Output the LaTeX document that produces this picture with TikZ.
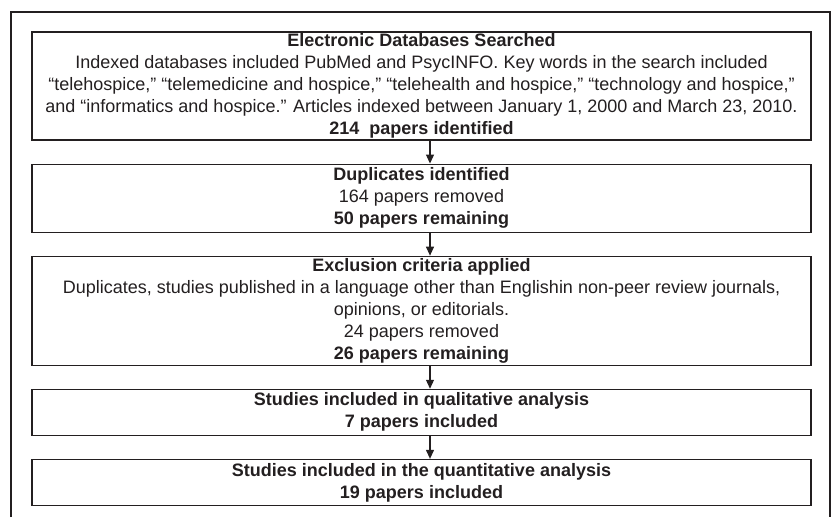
\documentclass[tikz,border=0pt]{standalone}
\usepackage{fontspec}
\setmainfont{Liberation Sans}
\usetikzlibrary{positioning,arrows.meta}
\definecolor{ink}{HTML}{231F20}

\begin{document}
\begin{tikzpicture}[x=1pt,y=1pt,>={Triangle[length=9pt,width=8pt]},
    stage/.style={draw=ink,line width=1.1pt,text=ink,minimum width=779pt,inner sep=0pt,
        align=center,font=\fontsize{18pt}{22pt}\selectfont}]
        \useasboundingbox (0,0) rectangle (832,-517);
        \draw[ink,line width=2.2pt] (11,-517) |- (830,-12) -- (830,-517); % outer frame

        \node[stage,minimum height=108pt] (search) at (421.5,-86)
            {\textbf{Electronic Databases Searched}\\
             Indexed databases included PubMed and PsycINFO. Key words in the search included\\
             “telehospice,” “telemedicine and hospice,” “telehealth and hospice,” “technology and hospice,”\\
             and “informatics and hospice.” Articles indexed between January 1, 2000 and March 23, 2010.\\
             \textbf{214~~papers identified}}; % step 1
        \node[stage,minimum height=68pt,below=23pt of search] (dup)
            {\textbf{Duplicates identified}\\
             164 papers removed\\
             \textbf{50 papers remaining}}; % step 2
        \node[stage,minimum height=109pt,below=23pt of dup] (excl)
            {\textbf{Exclusion criteria applied}\\
             Duplicates, studies published in a language other than Englishin non-peer review journals,\\
             opinions, or editorials.\\
             24 papers removed\\
             \textbf{26 papers remaining}}; % step 3
        \node[stage,minimum height=46pt,below=23pt of excl] (qual)
            {\textbf{Studies included in qualitative analysis}\\
             \textbf{7 papers included}}; % step 4
        \node[stage,minimum height=46pt,below=23pt of qual] (quant)
            {\textbf{Studies included in the quantitative analysis}\\
             \textbf{19 papers included}}; % step 5

        \draw [->,ink,line width=1.1pt] ([xshift=8.5pt]search.south) -- ([xshift=8.5pt]dup.north);
        \draw [->,ink,line width=1.1pt] ([xshift=8.5pt]dup.south) -- ([xshift=8.5pt]excl.north);
        \draw [->,ink,line width=1.1pt] ([xshift=8.5pt]excl.south) -- ([xshift=8.5pt]qual.north);
        \draw [->,ink,line width=1.1pt] ([xshift=8.5pt]qual.south) -- ([xshift=8.5pt]quant.north);
\end{tikzpicture}
\end{document}
